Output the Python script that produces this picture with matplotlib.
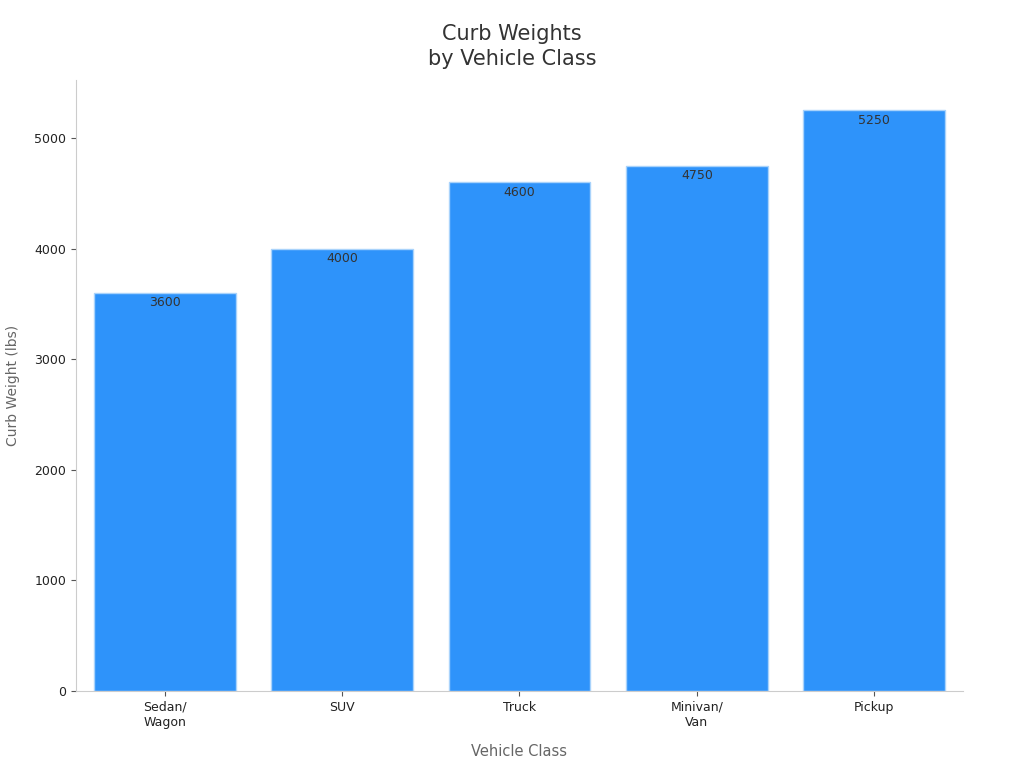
import matplotlib.pyplot as plt

categories = ["Sedan/\nWagon", "SUV", "Truck", "Minivan/\nVan", "Pickup"]
weights = [3600, 4000, 4600, 4750, 5250]

fig = plt.figure(figsize=(10.24, 7.68), dpi=100)
ax = fig.add_axes([0.0742, 0.1003, 0.8662, 0.7955])

bars = ax.bar(range(len(categories)), weights, width=0.8, color="#2E93FA",
              edgecolor="#A9D3FB", linewidth=1)

for b, v in zip(bars, weights):
    ax.text(b.get_x() + b.get_width() / 2, v - 30, str(v), ha="center", va="top",
            fontsize=9, color="#333333")

ax.set_xlim(-0.5, 4.5)
ax.set_ylim(0, 5525)
ax.set_xticks(range(len(categories)))
ax.set_xticklabels(categories, fontsize=9, color="#222222")
ax.set_yticks([0, 1000, 2000, 3000, 4000, 5000])
ax.tick_params(axis="y", labelsize=9, labelcolor="#222222", color="#555555")
ax.tick_params(axis="x", color="#555555")

for s in ["top", "right"]:
    ax.spines[s].set_visible(False)
for s in ["left", "bottom"]:
    ax.spines[s].set_color("#cccccc")

ax.set_xlabel("Vehicle Class", fontsize=10.5, color="#666666", labelpad=11)
ax.set_ylabel("Curb Weight (lbs)", fontsize=10, color="#666666", labelpad=10)
fig.suptitle("Curb Weights\nby Vehicle Class", x=0.5, y=0.969, fontsize=15,
             color="#333333", va="top", linespacing=1.35)

fig.savefig("out.png", dpi=100)
